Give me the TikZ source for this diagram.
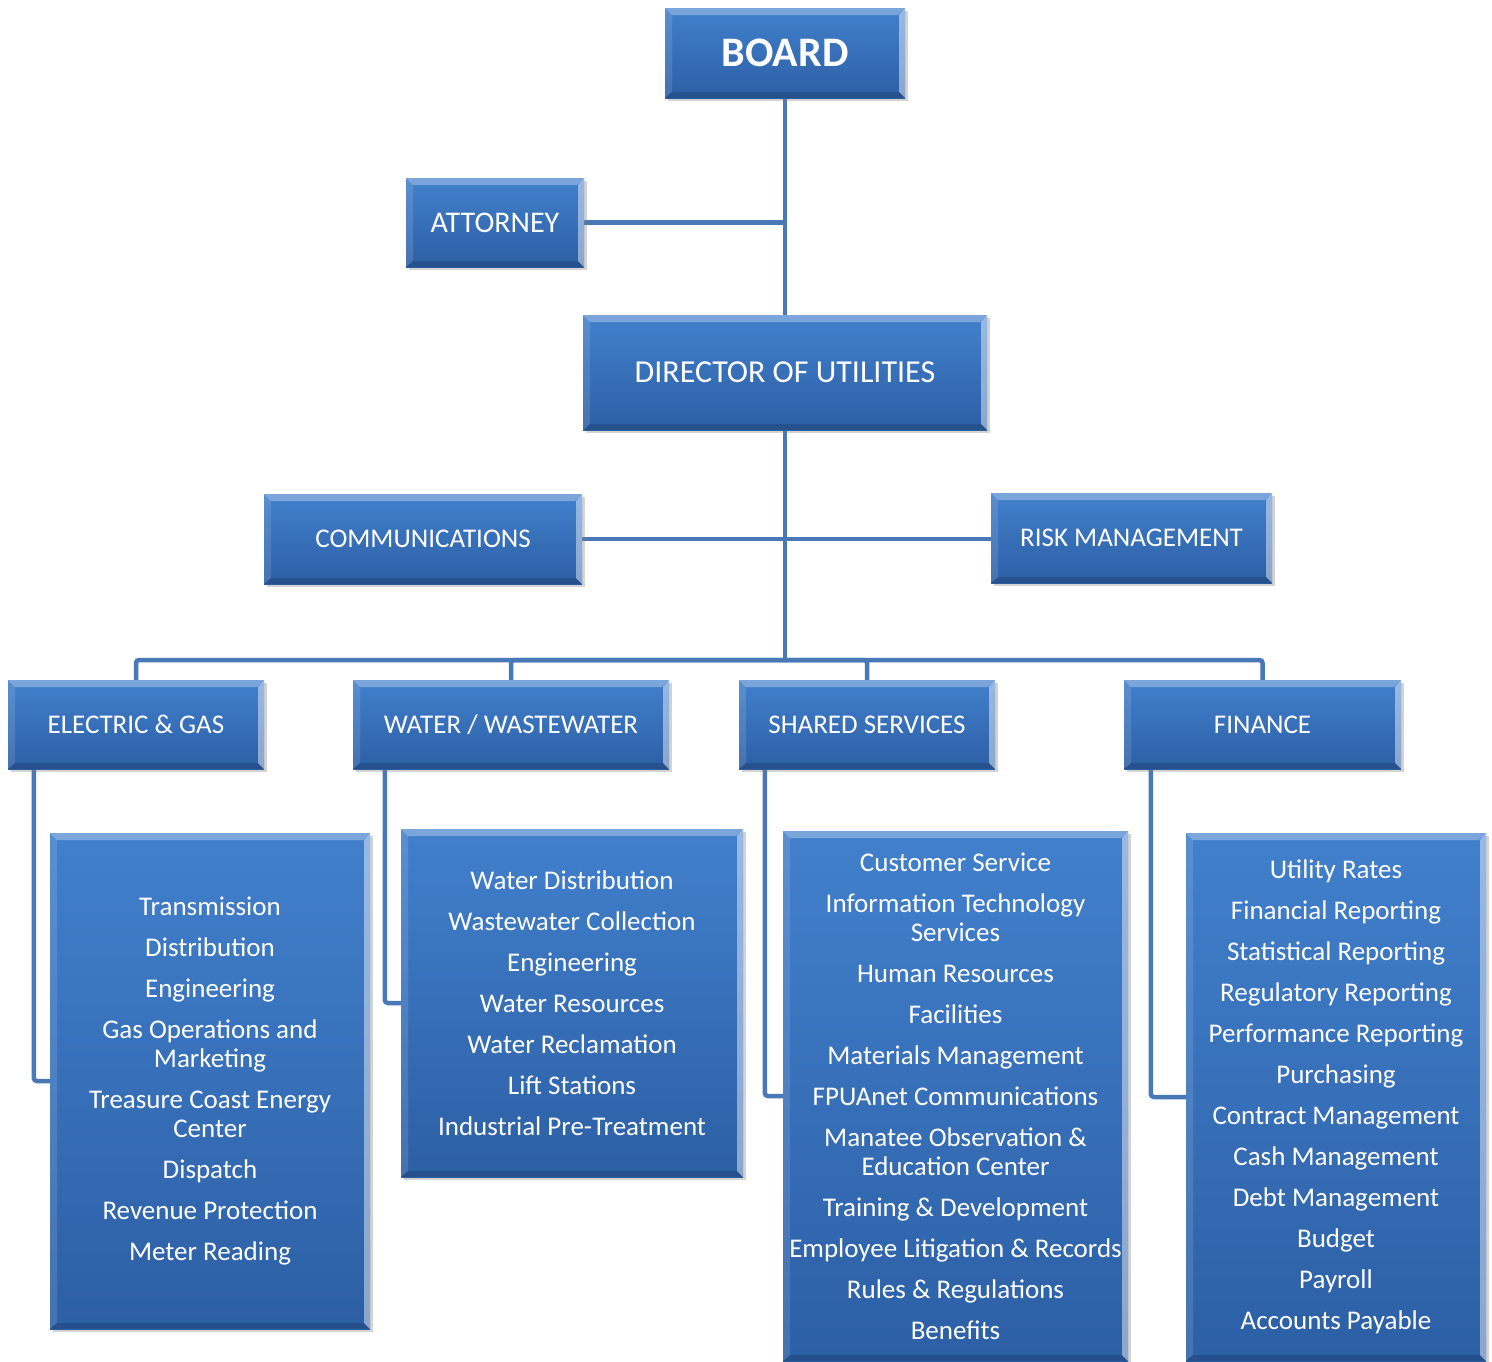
\documentclass[tikz,border=0pt]{standalone}
\usepackage{fontspec}
\setmainfont{Carlito}
\usetikzlibrary{shadows,calc}
\definecolor{boxtop}{RGB}{66,128,204}
\definecolor{boxbot}{RGB}{44,95,165}
\definecolor{linec}{RGB}{72,120,182}
\pgfdeclarelayer{bg}\pgfsetlayers{bg,main}
\tikzset{
 box/.style={rectangle, inner sep=0pt, top color=boxtop, bottom color=boxbot,
  text=white, align=center, font=\fontsize{27}{29}\selectfont,
  drop shadow={shadow xshift=3pt,shadow yshift=-3pt,opacity=0.35},
  path picture={
   \fill[white,opacity=0.30] (path picture bounding box.north west) -- (path picture bounding box.north east)
     -- ([xshift=-7pt,yshift=-7pt]path picture bounding box.north east) -- ([xshift=7pt,yshift=-7pt]path picture bounding box.north west) -- cycle;
   \fill[white,opacity=0.45] (path picture bounding box.north east) -- (path picture bounding box.south east)
     -- ([xshift=-6pt,yshift=6pt]path picture bounding box.south east) -- ([xshift=-6pt,yshift=-7pt]path picture bounding box.north east) -- cycle;
   \fill[black,opacity=0.15] (path picture bounding box.south west) -- (path picture bounding box.south east)
     -- ([xshift=-6pt,yshift=6pt]path picture bounding box.south east) -- ([xshift=7pt,yshift=6pt]path picture bounding box.south west) -- cycle;
   \fill[white,opacity=0.12] (path picture bounding box.north west) -- (path picture bounding box.south west)
     -- ([xshift=7pt,yshift=6pt]path picture bounding box.south west) -- ([xshift=7pt,yshift=-7pt]path picture bounding box.north west) -- cycle;
  }},
 conn/.style={draw=linec, line width=4.5pt},
 elbow/.style={conn, rounded corners=3pt}
}
\begin{document}
\begin{tikzpicture}[x=1pt,y=-1pt]
\useasboundingbox (0,0) rectangle (1492,1361);
% top level
\node[box, minimum width=240pt, minimum height=90pt, font=\fontsize{42}{48}\selectfont\bfseries] (board) at (785,53) {BOARD};
\node[box, minimum width=178pt, minimum height=89pt, font=\fontsize{30}{34}\selectfont] (att) at (495,222.5) {ATTORNEY};
\node[box, minimum width=404pt, minimum height=115pt, font=\fontsize{32}{36}\selectfont] (dir) at (785,372.5) {DIRECTOR OF UTILITIES};
\node[box, minimum width=318pt, minimum height=90pt] (comm) at (423,539) {COMMUNICATIONS};
\node[box, minimum width=281pt, minimum height=90pt] (risk) at (1131.5,538) {RISK MANAGEMENT};
% departments
\node[box, minimum width=256pt, minimum height=89pt] (eg) at (136,724.5) {ELECTRIC \& GAS};
\node[box, minimum width=316pt, minimum height=89pt] (ww) at (511,724.5) {WATER / WASTEWATER};
\node[box, minimum width=256pt, minimum height=89pt] (ss) at (867,724.5) {SHARED SERVICES};
\node[box, minimum width=277pt, minimum height=89pt] (fin) at (1262.5,724.5) {FINANCE};
% lists
\node[box, minimum width=320pt, minimum height=496pt] (eglist) at (210,1081) {Transmission\\[12pt]Distribution\\[12pt]Engineering\\[12pt]Gas Operations and\\Marketing\\[12pt]Treasure Coast Energy\\Center\\[12pt]Dispatch\\[12pt]Revenue Protection\\[12pt]Meter Reading};
\node[box, minimum width=342pt, minimum height=348pt] (wwlist) at (572,1003) {Water Distribution\\[12pt]Wastewater Collection\\[12pt]Engineering\\[12pt]Water Resources\\[12pt]Water Reclamation\\[12pt]Lift Stations\\[12pt]Industrial Pre-Treatment};
\node[box, minimum width=345pt, minimum height=530pt] (sslist) at (955.5,1096) {Customer Service\\[12pt]Information Technology\\Services\\[12pt]Human Resources\\[12pt]Facilities\\[12pt]Materials Management\\[12pt]FPUAnet Communications\\[12pt]Manatee Observation \&\\Education Center\\[12pt]Training \& Development\\[12pt]Employee Litigation \& Records\\[12pt]Rules \& Regulations\\[12pt]Benefits};
\node[box, minimum width=300pt, minimum height=528pt] (finlist) at (1336,1097) {Utility Rates\\[12pt]Financial Reporting\\[12pt]Statistical Reporting\\[12pt]Regulatory Reporting\\[12pt]Performance Reporting\\[12pt]Purchasing\\[12pt]Contract Management\\[12pt]Cash Management\\[12pt]Debt Management\\[12pt]Budget\\[12pt]Payroll\\[12pt]Accounts Payable};
% connectors
\begin{pgfonlayer}{bg}
\draw[conn] (board.south) -- (dir.north);
\draw[conn] (att.east) -- (att.east -| board.south);
\draw[conn] (comm.east) -- (comm.east -| risk.west);
\coordinate (bus) at (785,660);
\draw[conn] (dir.south) -- (bus);
\draw[elbow] (eg.north) |- (bus);
\draw[elbow] (ww.north) |- (bus);
\draw[elbow] (ss.north) |- (bus);
\draw[elbow] (fin.north) |- (bus);
\coordinate (egdrop) at ($(eg.south west)+(26,0)$);
\coordinate (wwdrop) at ($(ww.south west)+(32,0)$);
\coordinate (ssdrop) at ($(ss.south west)+(26,0)$);
\coordinate (findrop) at ($(fin.south west)+(27,0)$);
\draw[elbow] (egdrop) |- (eglist.west);
\draw[elbow] (wwdrop) |- (wwlist.west);
\draw[elbow] (ssdrop) |- (sslist.west);
\draw[elbow] (findrop) |- (finlist.west);
\end{pgfonlayer}
\end{tikzpicture}
\end{document}
